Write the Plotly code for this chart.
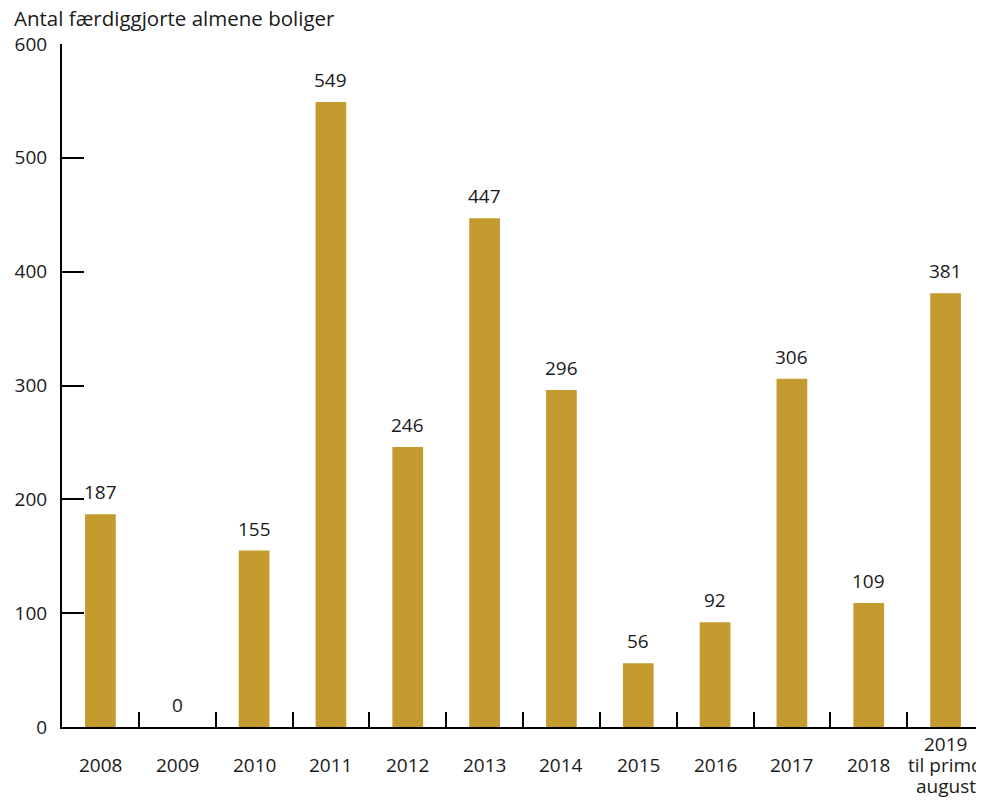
import plotly.graph_objects as go

categories = ["2008", "2009", "2010", "2011", "2012", "2013", "2014", "2015", "2016", "2017", "2018", "2019"]
tick_labels = ["2008", "2009", "2010", "2011", "2012", "2013", "2014", "2015", "2016", "2017", "2018", "2019<br>til primo<br>august"]
values = [187, 0, 155, 549, 246, 447, 296, 56, 92, 306, 109, 381]
y_ticks = [0, 100, 200, 300, 400, 500, 600]
title_text = "Antal færdiggjorte almene boliger"

FONT = "Open Sans"
TXT = "#1a1a1a"
BAR = "#C49B2E"
FS = 19
LINE_GAP = 21

idx = list(range(len(categories)))

fig = go.Figure()
fig.add_trace(go.Bar(x=idx, y=values, marker=dict(color=BAR, line=dict(width=0)),
                     width=0.4, hovertext=categories, hoverinfo="text+y"))

annotations = []
for i, v in zip(idx, values):
    annotations.append(dict(x=i, y=v, xref="x", yref="y", text=str(v), showarrow=False,
                            yanchor="bottom", yshift=7, font=dict(family=FONT, size=FS, color=TXT)))
for i, t in zip(idx, tick_labels):
    lines = t.split("<br>")
    n = len(lines)
    for k, line in enumerate(lines):
        annotations.append(dict(x=i, y=0, xref="x", yref="paper", text=line, showarrow=False,
                                yanchor="middle", borderpad=0,
                                yshift=-38 - (k - (n - 1) / 2) * LINE_GAP,
                                font=dict(family=FONT, size=FS, color=TXT)))
annotations.append(dict(x=0, y=1, xref="paper", yref="paper", text=title_text, showarrow=False,
                        xanchor="left", yanchor="bottom", xshift=-50, yshift=10,
                        font=dict(family=FONT, size=20.5, color=TXT)))

fig.update_layout(
    width=976, height=792,
    margin=dict(l=54, r=0, t=36, b=73),
    plot_bgcolor="white", paper_bgcolor="white",
    showlegend=False,
    font=dict(family=FONT, size=FS, color=TXT),
    annotations=annotations,
    xaxis=dict(range=[-0.5, 11.5], tickvals=[i + 0.5 for i in idx[:-1]], showline=True,
               linecolor="black", linewidth=2,
               ticks="inside", ticklen=15, tickwidth=2, tickcolor="black",
               showticklabels=False, showgrid=False, zeroline=False, fixedrange=True,
               automargin=False),
    yaxis=dict(range=[0, 600], tickvals=y_ticks, showline=True, linecolor="black", linewidth=2,
               ticks="inside", ticklen=22, tickwidth=2, tickcolor="black",
               showgrid=False, zeroline=False, ticklabelstandoff=9, automargin=False,
               tickfont=dict(family=FONT, size=FS, color=TXT), fixedrange=True),
)

fig.write_html("out.html")
